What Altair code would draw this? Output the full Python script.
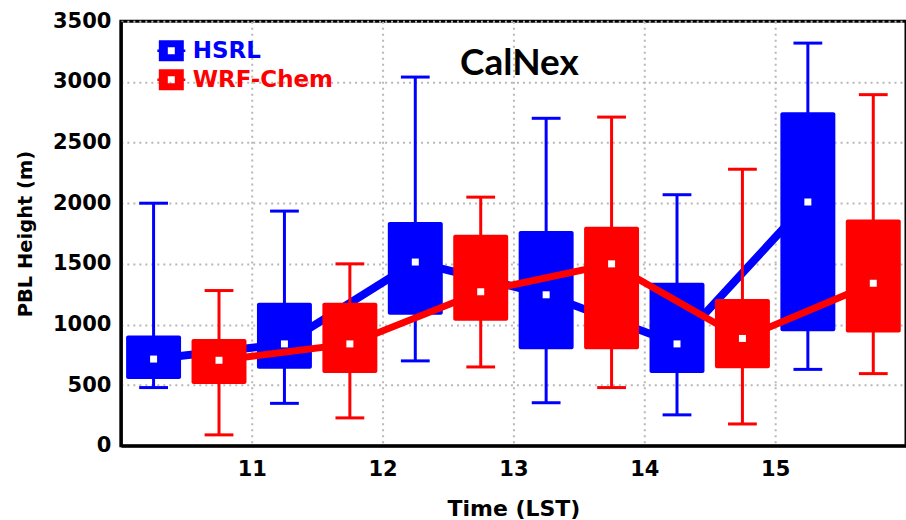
import altair as alt
import pandas as pd

hours = [10, 11, 12, 13, 14, 15]
series_names = ["HSRL", "WRF-Chem"]
series_colors = ["#0000ff", "#ff0000"]

hsrl_low = [480, 350, 700, 355, 255, 630]
hsrl_q1 = [550, 635, 1080, 795, 600, 945]
hsrl_med = [715, 840, 1515, 1245, 840, 2010]
hsrl_q3 = [910, 1180, 1845, 1770, 1345, 2750]
hsrl_high = [2000, 1935, 3040, 2700, 2070, 3320]

wrf_low = [90, 230, 650, 480, 180, 595]
wrf_q1 = [510, 600, 1030, 795, 640, 935]
wrf_med = [705, 840, 1270, 1500, 885, 1340]
wrf_q3 = [880, 1180, 1740, 1805, 1210, 1865]
wrf_high = [1280, 1500, 2050, 2710, 2280, 2895]

# layout constants (offset of each series inside the hour, half box width, half cap width)
OFFSETS = {"HSRL": 0.25, "WRF-Chem": 0.75}
HALF_BOX = 0.21
HALF_CAP = 0.11

rows = []
for name, lo, q1, med, q3, hi in [
    ("HSRL", hsrl_low, hsrl_q1, hsrl_med, hsrl_q3, hsrl_high),
    ("WRF-Chem", wrf_low, wrf_q1, wrf_med, wrf_q3, wrf_high),
]:
    for i, h in enumerate(hours):
        rows.append(dict(series=name, hour=h, low=lo[i], q1=q1[i], med=med[i],
                         q3=q3[i], high=hi[i]))
df = pd.DataFrame(rows)

FONT = "DejaVu Sans"

xscale = alt.Scale(domain=[10, 16], nice=False, zero=False)
yscale = alt.Scale(domain=[0, 3500], nice=False, zero=True)

xaxis = alt.Axis(values=[11, 12, 13, 14, 15], title="Time (LST)", grid=True,
                 format="d",
                 gridDash=[2, 4], gridColor="#b8b8b8", gridWidth=2,
                 domainColor="black", domainWidth=3, ticks=False,
                 labelFont=FONT, labelFontSize=21, labelFontWeight="bold",
                 labelColor="black", labelPadding=13,
                 titleFont=FONT, titleFontSize=22, titleFontWeight="bold",
                 titleColor="black", titlePadding=19)
yaxis = alt.Axis(values=[0, 500, 1000, 1500, 2000, 2500, 3000, 3500],
                 title="PBL Height (m)", grid=True, format="d",
                 gridDash=[2, 4], gridColor="#b8b8b8", gridWidth=2,
                 domainColor="black", domainWidth=3, ticks=False,
                 labelFont=FONT, labelFontSize=21, labelFontWeight="bold",
                 labelColor="black", labelPadding=10,
                 titleFont=FONT, titleFontSize=19.5, titleFontWeight="bold",
                 titleColor="black", titlePadding=17)


def X(field):
    return alt.X(field + ":Q", scale=xscale, axis=xaxis)


def Y(field):
    return alt.Y(field + ":Q", scale=yscale, axis=yaxis)


legend_path = ("M-1,-0.84 L1,-0.84 L1,-0.1 L1.12,-0.1 L1.12,0.1 L1,0.1 L1,0.84 "
               "L-1,0.84 L-1,0.1 L-1.12,0.1 L-1.12,-0.1 L-1,-0.1 Z "
               "M-0.28,-0.28 L-0.28,0.28 L0.28,0.28 L0.28,-0.28 Z")

color = alt.Color("series:N",
                  scale=alt.Scale(domain=series_names, range=series_colors),
                  legend=alt.Legend(orient="none", legendX=38, legendY=17,
                                    title=None, symbolType=legend_path,
                                    symbolSize=625, symbolStrokeWidth=0,
                                    symbolOpacity=1,
                                    labelFont=FONT, labelFontSize=23,
                                    labelFontWeight="bold", labelOffset=9,
                                    rowPadding=4,
                                    labelColor={"expr": "datum.value === 'HSRL' ? '#0000ff' : '#ff0000'"}))

base = alt.Chart(df).transform_calculate(
    pos="datum.hour + (datum.series === 'HSRL' ? %f : %f)" % (OFFSETS["HSRL"], OFFSETS["WRF-Chem"])
).transform_calculate(
    left="datum.pos - %f" % HALF_BOX,
    right="datum.pos + %f" % HALF_BOX,
    cl="datum.pos - %f" % HALF_CAP,
    cr="datum.pos + %f" % HALF_CAP,
)


def series_layers(name, col, line_width):
    b = base.transform_filter(alt.datum.series == name)
    line = b.mark_line(strokeWidth=line_width, color=col).encode(
        x=X("pos"), y=Y("med"))
    whisk = b.mark_rule(strokeWidth=3, color=col).encode(
        x=X("pos"), y=Y("low"), y2="high:Q")
    cap_hi = b.mark_rule(strokeWidth=3, color=col).encode(
        x=X("cl"), x2="cr:Q", y=Y("high"))
    cap_lo = b.mark_rule(strokeWidth=3, color=col).encode(
        x=X("cl"), x2="cr:Q", y=Y("low"))
    box = b.mark_rect(cornerRadius=2, opacity=1).encode(
        x=X("left"), x2="right:Q", y=Y("q1"), y2="q3:Q", color=color)
    return [line, whisk, cap_hi, cap_lo, box]


layers = series_layers("HSRL", series_colors[0], 8) + \
    series_layers("WRF-Chem", series_colors[1], 7)

medians = base.mark_square(size=49, color="white", opacity=1, filled=True).encode(
    x=X("pos"), y=Y("med"))

title = alt.Chart(pd.DataFrame({"t": ["CalNex"]})).mark_text(
    font="Lato", fontSize=37, fontWeight="bold", color="black",
    align="center", baseline="alphabetic").encode(
    text="t:N", x=alt.value(399), y=alt.value(54))

chart = alt.layer(*layers, medians, title).properties(
    width=786, height=425,
    padding={"left": 121, "top": 21, "right": 0, "bottom": 74},
    autosize=alt.AutoSizeParams(type="none"),
).configure_view(stroke="black", strokeWidth=3)

chart.save("out.html", embed_options={"renderer": "svg", "actions": False})
